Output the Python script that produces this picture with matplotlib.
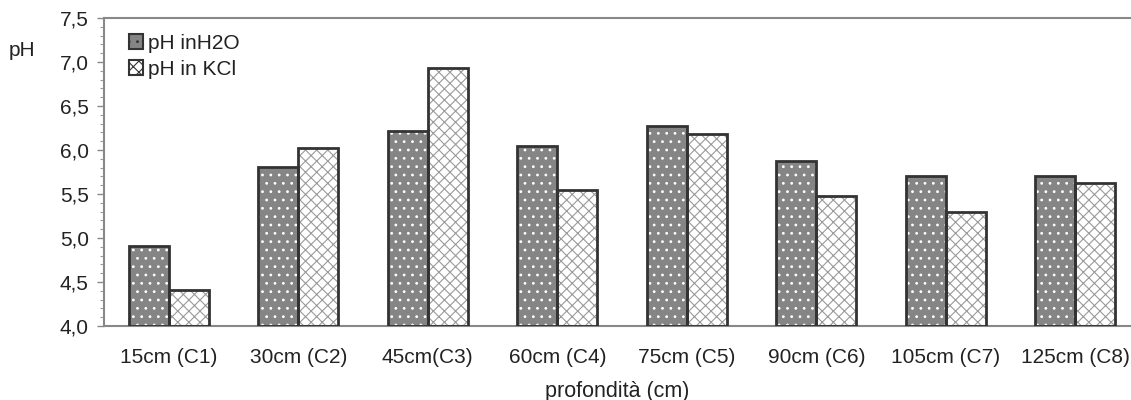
import numpy as np
import matplotlib.pyplot as plt
from matplotlib.patches import Patch

plt.rcParams['font.family'] = ['Liberation Sans', 'DejaVu Sans']
plt.rcParams['hatch.linewidth'] = 0.8

categories = ['15cm (C1)', '30cm (C2)', '45cm(C3)', '60cm (C4)', '75cm (C5)',
              '90cm (C6)', '105cm (C7)', '125cm (C8)']
ph_h2o = [4.91, 5.81, 6.22, 6.04, 6.27, 5.88, 5.70, 5.71]
ph_kcl = [4.41, 6.02, 6.93, 5.55, 6.18, 5.48, 5.30, 5.62]

text_col = '#222222'
grey = '#858585'
x = np.arange(len(categories))
w = 0.31

fig = plt.figure(figsize=(11.31, 4.0), dpi=100)
ax = fig.add_axes([0.092, 0.185, 0.908, 0.77])

# H2O bars: grey with white dots
ax.bar(x - w / 2, np.array(ph_h2o) - 4, w, bottom=4, color=grey,
       edgecolor='white', hatch='..', linewidth=0, zorder=2)
ax.bar(x - w / 2, np.array(ph_h2o) - 4, w, bottom=4, fill=False,
       edgecolor='#333333', linewidth=2, zorder=3)
# KCl bars: white with grey diagonal pattern
ax.bar(x + w / 2, np.array(ph_kcl) - 4, w, bottom=4, color='white',
       edgecolor='#9a9a9a', hatch='xxx', linewidth=0, zorder=2)
ax.bar(x + w / 2, np.array(ph_kcl) - 4, w, bottom=4, fill=False,
       edgecolor='#333333', linewidth=2, zorder=3)

ax.set_xlim(-0.5, 7.43)
ax.set_ylim(4.0, 7.5)
ax.set_yticks(np.arange(4.0, 7.51, 0.5))
ax.set_yticklabels([f'{v:.1f}'.replace('.', ',') for v in np.arange(4.0, 7.51, 0.5)])
ax.set_yticks(np.arange(4.0, 7.51, 0.1), minor=True)
ax.set_xticks(x)
ax.set_xticklabels(categories)
ax.tick_params(axis='x', length=0, pad=16, labelsize=15, colors=text_col)
ax.tick_params(axis='y', which='major', length=5, width=1, color='#888888',
               labelsize=15, labelcolor=text_col, pad=6)
ax.tick_params(axis='y', which='minor', length=3, width=0.8, color='#999999')

for s in ['left', 'bottom', 'top']:
    ax.spines[s].set_color('#888888')
    ax.spines[s].set_linewidth(1.5)
ax.spines['right'].set_visible(False)

ax.set_xlabel('profondità (cm)', fontsize=15.5, color=text_col, labelpad=10)
fig.text(0.008, 0.86, 'pH', fontsize=15, color=text_col)

handles = [Patch(facecolor=grey, edgecolor='#333333', hatch='..', linewidth=1.5),
           Patch(facecolor='white', edgecolor='#333333', hatch='xxx', linewidth=1.5)]
ax.legend(handles, ['pH inH2O', 'pH in KCl'], loc='upper left', frameon=False,
          fontsize=15, handlelength=0.7, handleheight=0.7, handletextpad=0.2,
          labelspacing=0.35, borderaxespad=0.2, bbox_to_anchor=(0.012, 0.99),
          labelcolor=text_col)

fig.savefig('out.png', dpi=100)
